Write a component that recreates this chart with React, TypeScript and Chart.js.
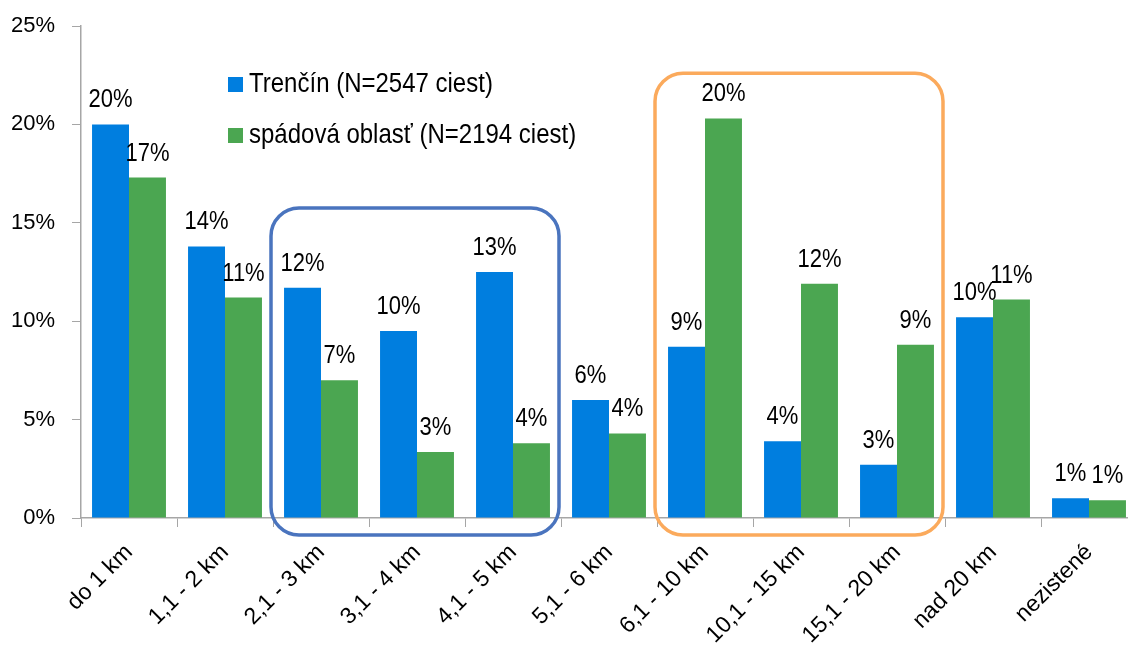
import React, { useEffect, useRef } from "react";
import { Chart, registerables } from "chart.js";

Chart.register(...registerables);

const categories = [
  "do 1 km",
  "1,1 - 2 km",
  "2,1 - 3 km",
  "3,1 - 4 km",
  "4,1 - 5 km",
  "5,1 - 6 km",
  "6,1 - 10 km",
  "10,1 - 15 km",
  "15,1 - 20 km",
  "nad 20 km",
  "nezistené",
];

const trencin = [20.0, 13.8, 11.7, 9.5, 12.5, 6.0, 8.7, 3.9, 2.7, 10.2, 1.0];
const spadova = [17.3, 11.2, 7.0, 3.35, 3.8, 4.3, 20.3, 11.9, 8.8, 11.1, 0.9];

const seriesLabels = ["Trenčín (N=2547 ciest)", "spádová oblasť (N=2194 ciest)"];
const seriesColors = ["#007EDF", "#4BA651"];

const yTicks = [0, 5, 10, 15, 20, 25];

// highlighted groups: [first category index, last category index, top value]
const boxFirst = [2, 6];
const boxLast = [4, 8];
const boxTop = [15.75, 22.6];
const boxColors = ["#4A74BE", "#FBAA5C"];

const FONT = "'Liberation Sans', Arial, sans-serif";

function stretchedText(ctx: CanvasRenderingContext2D, text: string, x: number, y: number, sy: number) {
  ctx.save();
  ctx.translate(x, y);
  ctx.scale(1, sy);
  ctx.fillText(text, 0, 0);
  ctx.restore();
}

const labelsPlugin = {
  id: "valueLabels",
  afterDatasetsDraw(chart: any) {
    const ctx = chart.ctx;
    ctx.save();
    ctx.font = `22px ${FONT}`;
    ctx.fillStyle = "#000";
    ctx.textAlign = "center";
    ctx.textBaseline = "alphabetic";
    chart.data.datasets.forEach((ds: any, di: number) => {
      const meta = chart.getDatasetMeta(di);
      meta.data.forEach((el: any, i: number) => {
        const v = ds.data[i];
        stretchedText(ctx, Math.round(v) + "%", el.x, el.y - 17, 1.18);
      });
    });
    ctx.restore();
  },
};

const boxesPlugin = {
  id: "groupBoxes",
  afterDatasetsDraw(chart: any) {
    const ctx = chart.ctx;
    const xs = chart.scales.x;
    const ys = chart.scales.y;
    const w = (chart.chartArea.right - chart.chartArea.left) / categories.length;
    ctx.save();
    ctx.lineWidth = 3.5;
    boxFirst.forEach((f, k) => {
      const left = xs.getPixelForValue(f) - w / 2 - 2;
      const right = xs.getPixelForValue(boxLast[k]) + w / 2 - 2;
      const top = ys.getPixelForValue(boxTop[k]);
      const bottom = ys.getPixelForValue(0) + 17;
      ctx.strokeStyle = boxColors[k];
      ctx.beginPath();
      (ctx as any).roundRect(left, top, right - left, bottom - top, 28);
      ctx.stroke();
    });
    ctx.restore();
  },
};

const legendPlugin = {
  id: "innerLegend",
  afterDraw(chart: any) {
    const ctx = chart.ctx;
    const x0 = chart.chartArea.left + 147;
    const y0 = 85;
    ctx.save();
    ctx.font = `24px ${FONT}`;
    ctx.textAlign = "left";
    ctx.textBaseline = "middle";
    seriesLabels.forEach((lab, i) => {
      const cy = y0 + i * 51;
      ctx.fillStyle = seriesColors[i];
      ctx.fillRect(x0, cy - 8, 15, 15);
      ctx.fillStyle = "#000";
      stretchedText(ctx, lab, x0 + 21, cy, 1.12);
    });
    ctx.restore();
  },
};

export default function App() {
  const ref = useRef<HTMLCanvasElement | null>(null);

  useEffect(() => {
    document.documentElement.style.overflow = "hidden";
    document.body.style.margin = "0";
    const chart = new Chart(ref.current as HTMLCanvasElement, {
      type: "bar",
      data: {
        labels: categories,
        datasets: [
          {
            label: seriesLabels[0],
            data: trencin,
            backgroundColor: seriesColors[0],
            categoryPercentage: 0.77,
            barPercentage: 1.0,
          },
          {
            label: seriesLabels[1],
            data: spadova,
            backgroundColor: seriesColors[1],
            categoryPercentage: 0.77,
            barPercentage: 1.0,
          },
        ],
      },
      options: {
        animation: false,
        responsive: false,
        maintainAspectRatio: false,
        layout: { padding: { top: 26, right: 3, left: 0, bottom: 0 } },
        plugins: {
          legend: { display: false },
          tooltip: { enabled: false },
        },
        scales: {
          x: {
            grid: {
              display: true,
              drawOnChartArea: false,
              drawTicks: true,
              tickLength: 9,
              color: "#A6A6A6",
              offset: true,
            },
            border: { display: true, color: "#A6A6A6", width: 1.5 },
            ticks: {
              font: { family: FONT, size: 23 },
              color: "#000",
              minRotation: 45,
              maxRotation: 45,
              padding: 12,
              autoSkip: false,
            },
            afterFit(scale: any) {
              scale.height = 128;
              scale.paddingTop = 0;
            },
          },
          y: {
            min: 0,
            max: 25,
            afterBuildTicks(scale: any) {
              scale.ticks = yTicks.map((v) => ({ value: v }));
            },
            grid: {
              display: true,
              drawOnChartArea: false,
              drawTicks: true,
              tickLength: 9,
              color: "#A6A6A6",
            },
            border: { display: true, color: "#A6A6A6", width: 1.5 },
            ticks: {
              font: { family: FONT, size: 22 },
              color: "#000",
              padding: 17,
              callback: (v: any) => v + "%",
            },
            afterFit(scale: any) {
              scale.width = 81;
              scale.paddingTop = 0;
              scale.paddingBottom = 0;
            },
          },
        },
      },
      plugins: [boxesPlugin, labelsPlugin, legendPlugin],
    });
    return () => chart.destroy();
  }, []);

  return (
    <div style={{ position: "absolute", left: 0, top: 0, width: 1140, height: 646 }}>
      <canvas ref={ref} width={1140} height={646} style={{ width: 1140, height: 646 }} />
    </div>
  );
}
